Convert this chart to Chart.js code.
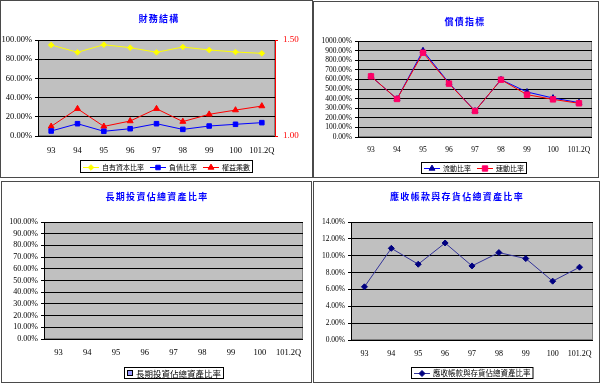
<!DOCTYPE html>
<html>
<head>
<meta charset="utf-8">
<script src="https://cdn.jsdelivr.net/npm/chart.js"></script>
<style>
  html, body { margin: 0; padding: 0; background: #fff; }
  body { width: 600px; height: 383px; position: relative; overflow: hidden; }
  .panel { position: absolute; box-sizing: border-box; border: 1px solid #4a4a4a; background: #fff; }
  .panel canvas { display: block; }
</style>
</head>
<body>
<div class="panel" style="left:0;top:0;width:313px;height:178px"><canvas id="c1" width="311" height="176"></canvas></div>
<div class="panel" style="left:313px;top:1px;width:286px;height:177px"><canvas id="c2" width="284" height="175"></canvas></div>
<div class="panel" style="left:1px;top:181px;width:311px;height:202px"><canvas id="c3" width="309" height="200"></canvas></div>
<div class="panel" style="left:313px;top:181px;width:287px;height:202px"><canvas id="c4" width="285" height="200"></canvas></div>
<script>
const categories = ['93', '94', '95', '96', '97', '98', '99', '100', '101.2Q'];

// 財務結構
const equityRatio = [94.8, 87.2, 95.1, 92.0, 87.2, 92.7, 89.6, 87.5, 86.1];
const debtRatio = [5.2, 12.8, 4.9, 7.6, 12.8, 6.9, 10.4, 12.2, 13.9];
const equityMultiplier = [1.05, 1.142, 1.05, 1.078, 1.142, 1.075, 1.113, 1.135, 1.156];

// 償債指標
const currentRatio = [632, 396, 899, 562, 271, 597, 469, 406, 358];
const quickRatio = [632, 396, 878, 556, 271, 597, 441, 392, 351];

// 長期投資佔總資產比率
const longInvestRatio = [0, 0, 0, 0, 0, 0, 0, 0, 0];

// 應收帳款與存貨佔總資產比率
const receivInvRatio = [6.31, 10.88, 8.99, 11.51, 8.79, 10.37, 9.66, 6.98, 8.64];

const SERIF = '"Liberation Serif", "Times New Roman", serif';
const CJK = '"Noto Sans CJK TC", "Noto Sans CJK SC", sans-serif';
const pct = v => Number(v).toFixed(2) + '%';

function drawMarker(ctx, style, x, y, r) {
  ctx.beginPath();
  if (style === 'rect') {
    const s = r * Math.SQRT1_2;
    ctx.rect(x - s, y - s, 2 * s, 2 * s);
  } else if (style === 'rectRot') {
    ctx.moveTo(x, y - r); ctx.lineTo(x + r, y); ctx.lineTo(x, y + r); ctx.lineTo(x - r, y);
    ctx.closePath();
  } else if (style === 'triangle') {
    ctx.moveTo(x, y - r); ctx.lineTo(x + r * 0.866, y + r * 0.5); ctx.lineTo(x - r * 0.866, y + r * 0.5);
    ctx.closePath();
  }
  ctx.fill(); ctx.stroke();
}

// excel-like plot area, title and boxed legend
const excel = {
  id: 'excel',
  beforeDraw(chart) {
    const { ctx, chartArea: a } = chart;
    ctx.save();
    ctx.fillStyle = '#c0c0c0';
    ctx.fillRect(a.left, a.top, a.width, a.height);
    ctx.strokeStyle = '#808080';
    ctx.lineWidth = 1;
    ctx.strokeRect(a.left + 0.5, a.top + 0.5, a.width - 1, a.height - 1);
    ctx.restore();
  },
  afterDraw(chart, args, o) {
    const ctx = chart.ctx;
    ctx.save();
    // title
    ctx.font = 'bold 9px ' + CJK;
    ctx.fillStyle = '#0000ff';
    ctx.letterSpacing = '1.3px';
    ctx.textAlign = 'center';
    ctx.textBaseline = 'middle';
    ctx.fillText(o.title, o.tx, o.ty);
    ctx.letterSpacing = '0px';

    // legend
    ctx.font = o.lf + 'px ' + CJK;
    const isBar = chart.config.type === 'bar';
    const items = chart.data.datasets.map(d => ({ d, w: ctx.measureText(d.label).width }));
    const sym = isBar ? 6 : 16;
    let total = 3;
    items.forEach((it, i) => { total += sym + 3 + it.w + (i < items.length - 1 ? 6 : 0); });
    total += 3;
    let x = Math.round(o.lx - total / 2);
    const y = o.ly, h = o.lh, cy = y + h / 2;
    ctx.fillStyle = '#fff';
    ctx.fillRect(x, y, total, h);
    ctx.strokeStyle = '#000';
    ctx.lineWidth = 1;
    ctx.strokeRect(x + 0.5, y + 0.5, total - 1, h - 1);
    x += 3;
    items.forEach(it => {
      const d = it.d;
      if (isBar) {
        ctx.fillStyle = d.backgroundColor;
        ctx.strokeStyle = '#000';
        ctx.fillRect(x, cy - 3, 6, 6);
        ctx.strokeRect(x + 0.5, cy - 2.5, 5, 5);
      } else {
        ctx.strokeStyle = d.borderColor;
        ctx.beginPath();
        ctx.moveTo(x, Math.round(cy) + 0.5);
        ctx.lineTo(x + sym, Math.round(cy) + 0.5);
        ctx.stroke();
        ctx.fillStyle = d.pointBackgroundColor;
        ctx.strokeStyle = d.pointBorderColor;
        drawMarker(ctx, d.pointStyle, x + sym / 2, Math.round(cy) + 0.5, d.pointRadius);
      }
      x += sym + 3;
      ctx.fillStyle = '#000';
      ctx.textAlign = 'left';
      ctx.textBaseline = 'middle';
      ctx.fillText(d.label, x, cy + 0.5);
      x += it.w + 6;
    });
    ctx.restore();
  }
};

function fixY(w) { return s => { s.width = w; s.paddingTop = 0; s.paddingBottom = 0; }; }
function fixX(h) { return s => { s.height = h; s.paddingLeft = 0; s.paddingRight = 0; }; }

function xScale(h, size, pad) {
  return {
    offset: true,
    grid: { display: false, drawTicks: false },
    border: { display: false },
    ticks: { color: '#000', font: { family: SERIF, size: size }, padding: pad, maxRotation: 0, autoSkip: false },
    afterFit: fixX(h)
  };
}
function yScale(w, min, max, step, size) {
  return {
    min: min, max: max,
    grid: { color: '#000', lineWidth: 1, tickLength: 3, tickColor: '#000' },
    border: { display: true, color: '#000' },
    ticks: { stepSize: step, autoSkip: false, color: '#000', font: { family: SERIF, size: size }, padding: 3, callback: v => pct(v) },
    afterFit: fixY(w)
  };
}
function lineSet(label, data, color, markColor, style, r, axis) {
  return {
    label: label, data: data, yAxisID: axis || 'y',
    borderColor: color, borderWidth: 1,
    pointStyle: style, pointRadius: r, pointBackgroundColor: markColor, pointBorderColor: markColor,
    pointBorderWidth: 1, tension: 0
  };
}
const common = { responsive: false, animation: false, devicePixelRatio: 1 };

// 財務結構
new Chart(document.getElementById('c1'), {
  type: 'line',
  data: {
    labels: categories,
    datasets: [
      lineSet('自有資本比率', equityRatio, '#ffff00', '#ffff00', 'rectRot', 2.8),
      lineSet('負債比率', debtRatio, '#0000ff', '#0000ff', 'rect', 3.2),
      lineSet('權益乘數', equityMultiplier, '#ff0000', '#ff0000', 'triangle', 3.4, 'y1')
    ]
  },
  options: Object.assign({}, common, {
    layout: { padding: { top: 39, left: 0, right: 0, bottom: 0 } },
    scales: {
      x: xScale(41, 8.5, 10),
      y: yScale(37, 0, 100, 20, 8.5),
      y1: {
        position: 'right', min: 1, max: 1.5,
        grid: { drawOnChartArea: false, tickLength: 3, tickColor: '#ff0000' },
        border: { display: true, color: '#ff0000' },
        ticks: { stepSize: 0.5, color: '#ff0000', font: { family: SERIF, size: 9 }, padding: 5, callback: v => Number(v).toFixed(2) },
        afterFit: fixY(37)
      }
    },
    plugins: {
      legend: { display: false }, tooltip: { enabled: false },
      excel: { title: '財務結構', tx: 158, ty: 18, lx: 165, ly: 159, lh: 13, lf: 7 }
    }
  }),
  plugins: [excel]
});

// 償債指標
const cr = lineSet('流動比率', currentRatio, '#0000ff', '#000099', 'triangle', 3.4);
cr.order = 1;
const qr = lineSet('速動比率', quickRatio, '#ff0000', '#ff0066', 'rect', 3.8);
qr.order = 0;
new Chart(document.getElementById('c2'), {
  type: 'line',
  data: { labels: categories, datasets: [cr, qr] },
  options: Object.assign({}, common, {
    layout: { padding: { top: 39, left: 0, right: 6, bottom: 0 } },
    scales: {
      x: xScale(40, 7.5, 9),
      y: yScale(44, 0, 1000, 100, 7.5)
    },
    plugins: {
      legend: { display: false }, tooltip: { enabled: false },
      excel: { title: '償債指標', tx: 151, ty: 20, lx: 160, ly: 160, lh: 12, lf: 7 }
    }
  }),
  plugins: [excel]
});

// 長期投資佔總資產比率
new Chart(document.getElementById('c3'), {
  type: 'bar',
  data: {
    labels: categories,
    datasets: [{ label: '長期投資佔總資產比率', data: longInvestRatio, backgroundColor: '#9999ff', borderWidth: 0 }]
  },
  options: Object.assign({}, common, {
    layout: { padding: { top: 40, left: 0, right: 8, bottom: 0 } },
    scales: {
      x: xScale(43, 8.5, 9),
      y: yScale(42, 0, 100, 10, 8)
    },
    plugins: {
      legend: { display: false }, tooltip: { enabled: false },
      excel: { title: '長期投資佔總資產比率', tx: 155, ty: 15, lx: 172, ly: 185, lh: 12, lf: 8.5 }
    }
  }),
  plugins: [excel]
});

// 應收帳款與存貨佔總資產比率
new Chart(document.getElementById('c4'), {
  type: 'line',
  data: {
    labels: categories,
    datasets: [lineSet('應收帳款與存貨佔總資產比率', receivInvRatio, '#333399', '#000080', 'rectRot', 3)]
  },
  options: Object.assign({}, common, {
    layout: { padding: { top: 40, left: 0, right: 6, bottom: 0 } },
    scales: {
      x: xScale(42, 8, 9),
      y: yScale(37, 0, 14, 2, 7.5)
    },
    plugins: {
      legend: { display: false }, tooltip: { enabled: false },
      excel: { title: '應收帳款與存貨佔總資產比率', tx: 143, ty: 15, lx: 158, ly: 185, lh: 12, lf: 7.5 }
    }
  }),
  plugins: [excel]
});
</script>
</body>
</html>
